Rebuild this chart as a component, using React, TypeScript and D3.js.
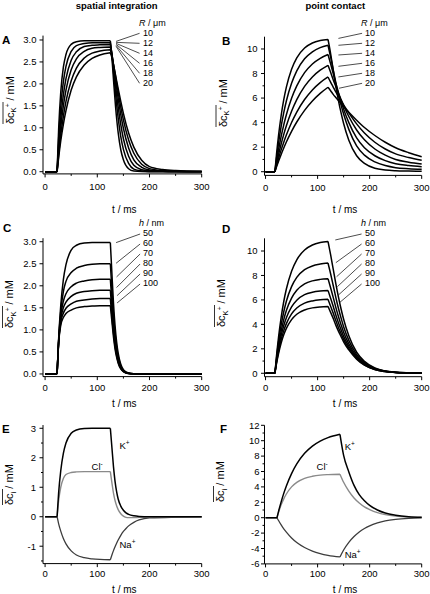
import React from 'react';
import * as d3 from 'd3';

const FONT = "'Liberation Sans', Arial, Helvetica, sans-serif";

// ---------------- shared tick values ----------------
const xMajor = [0, 100, 200, 300];
const xMinor = [50, 150, 250];
const yTicksAC = [0, 0.5, 1, 1.5, 2, 2.5, 3];
const yTicksBD = [0, 2, 4, 6, 8, 10];
const yMinorBD = [1, 3, 5, 7, 9];
const yTicksE = [-1, 0, 1, 2, 3];
const yMinorE = [-1.5, -0.5, 0.5, 1.5, 2.5];
const yTicksF = [-6, -4, -2, 0, 2, 4, 6, 8, 10, 12];
const yMinorF = [-5, -3, -1, 1, 3, 5, 7, 9, 11];

const radiusLabels = ['10', '12', '14', '16', '18', '20'];
const heightLabels = ['50', '60', '70', '80', '90', '100'];

// ---------------- Panel A : spatial integration, R varied ----------------
const riseTA = [23, 26, 30, 35, 40, 50, 60, 75, 90, 105, 125];
const decayTA = [125, 128, 131, 135, 140, 145, 150, 160, 170, 185, 200, 225, 250, 300];
const riseA_R10 = [0, 0.98, 1.81, 2.38, 2.67, 2.9, 2.96, 2.98, 2.98, 2.98, 2.98];
const riseA_R12 = [0, 0.76, 1.48, 2.05, 2.4, 2.74, 2.87, 2.92, 2.94, 2.94, 2.94];
const riseA_R14 = [0, 0.6, 1.21, 1.75, 2.12, 2.54, 2.73, 2.85, 2.88, 2.89, 2.9];
const riseA_R16 = [0, 0.49, 1.01, 1.5, 1.86, 2.32, 2.57, 2.74, 2.81, 2.83, 2.84];
const riseA_R18 = [0, 0.39, 0.83, 1.26, 1.6, 2.07, 2.36, 2.59, 2.7, 2.75, 2.78];
const riseA_R20 = [0, 0.32, 0.7, 1.08, 1.39, 1.86, 2.16, 2.43, 2.58, 2.66, 2.71];
const decayA_R10 = [2.98, 2.6, 2.1, 1.48, 0.89, 0.5, 0.27, 0.066, 0.014, 0.003, 0.001, 0, 0, 0];
const decayA_R12 = [2.94, 2.66, 2.28, 1.77, 1.22, 0.8, 0.51, 0.19, 0.06, 0.018, 0.006, 0.002, 0, 0];
const decayA_R14 = [2.9, 2.69, 2.38, 1.96, 1.47, 1.07, 0.75, 0.35, 0.146, 0.045, 0.02, 0.008, 0.004, 0];
const decayA_R16 = [2.84, 2.67, 2.43, 2.09, 1.67, 1.3, 0.99, 0.54, 0.27, 0.1, 0.04, 0.015, 0.008, 0.002];
const decayA_R18 = [2.78, 2.65, 2.45, 2.17, 1.81, 1.47, 1.18, 0.72, 0.42, 0.17, 0.07, 0.025, 0.012, 0.004];
const decayA_R20 = [2.71, 2.6, 2.44, 2.2, 1.89, 1.6, 1.33, 0.88, 0.56, 0.26, 0.115, 0.05, 0.025, 0.008];

// ---------------- Panel B : point contact, R varied ----------------
const riseTB = [18, 21, 25, 30, 35, 40, 50, 60, 75, 90, 105, 120];
const decayTB = [120, 125, 130, 135, 140, 145, 150, 160, 175, 190, 210, 230, 250, 275, 300];
const riseB_R10 = [0, 1.39, 2.97, 4.58, 5.87, 6.89, 8.35, 9.28, 10.08, 10.49, 10.69, 10.78];
const riseB_R12 = [0, 1.07, 2.34, 3.69, 4.81, 5.76, 7.2, 8.22, 9.2, 9.77, 10.11, 10.3];
const riseB_R14 = [0, 0.81, 1.79, 2.88, 3.82, 4.64, 5.98, 6.99, 8.07, 8.78, 9.24, 9.55];
const riseB_R16 = [0, 0.62, 1.39, 2.26, 3.04, 3.74, 4.92, 5.87, 6.95, 7.72, 8.27, 8.67];
const riseB_R18 = [0, 0.48, 1.08, 1.78, 2.41, 2.99, 4.01, 4.86, 5.88, 6.66, 7.26, 7.72];
const riseB_R20 = [0, 0.38, 0.85, 1.41, 1.93, 2.42, 3.29, 4.05, 5.0, 5.76, 6.38, 6.88];
const decayB_R10 = [10.78, 9.63, 8.28, 6.99, 5.82, 4.81, 3.93, 2.57, 1.3, 0.68, 0.28, 0.14, 0.08, 0.05, 0.03];
const decayB_R12 = [10.3, 9.35, 8.3, 7.25, 6.3, 5.45, 4.7, 3.45, 2.1, 1.35, 0.8, 0.5, 0.33, 0.25, 0.2];
const decayB_R14 = [9.55, 8.8, 8.0, 7.2, 6.45, 5.75, 5.1, 4.0, 2.75, 1.95, 1.3, 0.9, 0.65, 0.5, 0.41];
const decayB_R16 = [8.67, 8.1, 7.5, 6.95, 6.4, 5.9, 5.4, 4.5, 3.4, 2.6, 1.85, 1.35, 1.0, 0.78, 0.63];
const decayB_R18 = [7.72, 7.3, 6.9, 6.5, 6.15, 5.8, 5.45, 4.8, 3.9, 3.15, 2.4, 1.85, 1.45, 1.15, 0.93];
const decayB_R20 = [6.88, 6.6, 6.3, 6.05, 5.8, 5.55, 5.3, 4.85, 4.2, 3.6, 2.95, 2.4, 1.95, 1.55, 1.22];

// ---------------- Panel C : spatial integration, h varied ----------------
const riseTC = [23, 26, 30, 35, 40, 50, 60, 75, 90, 105, 125];
const decayTC = [125, 128, 131, 134, 137, 140, 145, 150, 155, 160, 170, 180, 200, 300];
const riseC_h50 = [0, 0.81, 1.55, 2.14, 2.48, 2.81, 2.92, 2.97, 2.98, 2.98, 2.98];
const riseC_h60 = [0, 0.78, 1.42, 1.87, 2.1, 2.3, 2.4, 2.46, 2.49, 2.5, 2.5];
const riseC_h70 = [0, 0.76, 1.32, 1.65, 1.82, 1.98, 2.06, 2.11, 2.14, 2.15, 2.15];
const riseC_h80 = [0, 0.74, 1.24, 1.5, 1.63, 1.76, 1.83, 1.87, 1.89, 1.9, 1.9];
const riseC_h90 = [0, 0.72, 1.17, 1.38, 1.49, 1.59, 1.65, 1.68, 1.7, 1.71, 1.71];
const riseC_h100 = [0, 0.7, 1.1, 1.28, 1.37, 1.45, 1.5, 1.53, 1.54, 1.55, 1.55];
const decayC_h50 = [2.98, 2.28, 1.61, 1.1, 0.73, 0.47, 0.22, 0.1, 0.045, 0.02, 0.005, 0.001, 0, 0];
const decayC_h60 = [2.5, 1.91, 1.35, 0.92, 0.61, 0.4, 0.18, 0.083, 0.036, 0.015, 0.004, 0.001, 0, 0];
const decayC_h70 = [2.15, 1.64, 1.16, 0.79, 0.52, 0.34, 0.16, 0.071, 0.031, 0.013, 0.003, 0.001, 0, 0];
const decayC_h80 = [1.9, 1.45, 1.03, 0.7, 0.46, 0.3, 0.14, 0.063, 0.027, 0.012, 0.003, 0.001, 0, 0];
const decayC_h90 = [1.71, 1.31, 0.93, 0.63, 0.42, 0.27, 0.126, 0.057, 0.025, 0.01, 0.003, 0.001, 0, 0];
const decayC_h100 = [1.55, 1.19, 0.84, 0.57, 0.38, 0.245, 0.114, 0.051, 0.022, 0.009, 0.002, 0.001, 0, 0];

// ---------------- Panel D : point contact, h varied ----------------
const riseTD = [18, 21, 25, 30, 35, 40, 50, 60, 75, 90, 105, 120];
const decayTD = [120, 125, 130, 135, 140, 145, 150, 160, 175, 190, 210, 230, 250, 275, 300];
const riseD_h50 = [0, 1.39, 2.97, 4.58, 5.87, 6.89, 8.35, 9.28, 10.08, 10.49, 10.69, 10.78];
const riseD_h60 = [0, 1.21, 2.57, 3.95, 5.03, 5.89, 7.09, 7.84, 8.47, 8.78, 8.93, 9.02];
const riseD_h70 = [0, 1.06, 2.25, 3.45, 4.39, 5.13, 6.15, 6.79, 7.31, 7.56, 7.68, 7.74];
const riseD_h80 = [0, 0.95, 2.01, 3.08, 3.91, 4.55, 5.44, 5.98, 6.43, 6.63, 6.73, 6.78];
const riseD_h90 = [0, 0.85, 1.8, 2.75, 3.49, 4.06, 4.86, 5.34, 5.74, 5.92, 6.01, 6.05];
const riseD_h100 = [0, 0.77, 1.62, 2.48, 3.15, 3.67, 4.39, 4.83, 5.18, 5.35, 5.43, 5.47];
const decayD_h50 = [10.78, 9.7, 8.52, 7.33, 6.25, 5.28, 4.42, 3.07, 1.72, 0.97, 0.43, 0.19, 0.09, 0.04, 0.02];
const decayD_h60 = [9.02, 8.14, 7.18, 6.21, 5.32, 4.53, 3.81, 2.69, 1.53, 0.87, 0.39, 0.17, 0.08, 0.04, 0.02];
const decayD_h70 = [7.74, 7.0, 6.21, 5.39, 4.64, 3.98, 3.36, 2.41, 1.39, 0.79, 0.36, 0.16, 0.07, 0.03, 0.02];
const decayD_h80 = [6.78, 6.14, 5.48, 4.77, 4.14, 3.57, 3.02, 2.2, 1.29, 0.73, 0.33, 0.15, 0.07, 0.03, 0.01];
const decayD_h90 = [6.05, 5.49, 4.92, 4.31, 3.75, 3.25, 2.77, 2.04, 1.21, 0.69, 0.31, 0.14, 0.06, 0.03, 0.01];
const decayD_h100 = [5.47, 4.98, 4.49, 3.94, 3.45, 3.01, 2.57, 1.91, 1.15, 0.66, 0.3, 0.14, 0.06, 0.03, 0.01];

// ---------------- Panel E : spatial integration, ions ----------------
const riseTE = [23, 26, 30, 35, 40, 50, 60, 75, 90, 105, 125];
const decayTE = [125, 128, 131, 134, 137, 140, 145, 150, 155, 160, 170, 180, 200, 300];
const riseE_K = [0, 0.82, 1.56, 2.15, 2.5, 2.83, 2.94, 2.99, 3.0, 3.0, 3.0];
const riseE_Cl = [0, 0.55, 1.0, 1.3, 1.43, 1.5, 1.52, 1.53, 1.53, 1.53, 1.53];
const riseE_Na = [0, -0.24, -0.49, -0.74, -0.92, -1.16, -1.3, -1.39, -1.43, -1.45, -1.46];
const decayE_K = [3.0, 2.35, 1.7, 1.2, 0.85, 0.6, 0.36, 0.22, 0.13, 0.08, 0.03, 0.01, 0, 0];
const decayE_Cl = [1.53, 1.15, 0.8, 0.55, 0.37, 0.24, 0.1, 0.02, -0.02, -0.03, -0.03, -0.02, -0.01, 0];
const decayE_Na = [-1.46, -1.3, -1.15, -1.02, -0.9, -0.79, -0.63, -0.5, -0.4, -0.31, -0.19, -0.11, -0.04, 0];

// ---------------- Panel F : point contact, ions ----------------
const riseTF = [22, 25, 30, 35, 40, 50, 60, 75, 90, 105, 120, 143];
const decayTF = [143, 150, 160, 170, 180, 190, 200, 215, 230, 250, 275, 300];
const riseF_K = [0, 0.82, 2.06, 3.16, 4.12, 5.73, 6.98, 8.36, 9.3, 9.95, 10.4, 10.83];
const riseF_Cl = [0, 0.69, 1.67, 2.45, 3.08, 4.0, 4.59, 5.11, 5.38, 5.53, 5.6, 5.65];
const riseF_Na = [0, -0.37, -0.94, -1.44, -1.88, -2.63, -3.22, -3.87, -4.33, -4.65, -4.88, -5.1];
const decayF_K = [10.83, 8.1, 5.95, 4.2, 3.0, 2.2, 1.6, 1.0, 0.6, 0.32, 0.13, 0.05];
const decayF_Cl = [5.65, 4.6, 3.45, 2.55, 1.9, 1.4, 1.05, 0.65, 0.4, 0.2, 0.08, 0.03];
const decayF_Na = [-5.1, -4.2, -3.2, -2.45, -1.85, -1.4, -1.05, -0.68, -0.42, -0.22, -0.09, -0.03];

// ---------------- drawing helpers ----------------
type Curve = { rt: number[]; rv: number[]; dt: number[]; dv: number[]; color: string; width: number };

const zip = (a: number[], b: number[]) => a.map((t, i) => [t, b[i]] as [number, number]);

type Leader = { t1: number; v1: number; dy1: number; t2: number; yEnd: number };

interface PanelProps {
  xDomain: [number, number];
  xRange: [number, number];
  yDomain: [number, number];
  yRange: [number, number];
  yTicks: number[];
  yMinor: number[];
  fmt: (v: number) => string;
  curves: Curve[];
  xLabelDy: number;
  xTitleY: number;
  ytGap: number;
  children?: (x: d3.ScaleLinear<number, number>, y: d3.ScaleLinear<number, number>) => React.ReactNode;
}

function Panel(p: PanelProps) {
  const x = d3.scaleLinear().domain(p.xDomain).range(p.xRange);
  const y = d3.scaleLinear().domain(p.yDomain).range(p.yRange);
  const smooth = d3.line<[number, number]>().x(d => x(d[0])).y(d => y(d[1])).curve(d3.curveMonotoneX);
  const straight = d3.line<[number, number]>().x(d => x(d[0])).y(d => y(d[1]));
  const ax = p.xRange[0];
  const ay = p.yRange[0];
  const xEnd = x(300);
  return (
    <g>
      {p.curves.map((c, i) => (
        <path
          key={i}
          d={(straight([[0, 0], [c.rt[0], 0]]) || '') + (smooth(zip(c.rt, c.rv)) || '') + (smooth(zip(c.dt, c.dv)) || '')}
          fill="none"
          stroke={c.color}
          strokeWidth={c.width}
          strokeLinejoin="round"
        />
      ))}
      {/* axes */}
      <line x1={ax} x2={xEnd} y1={ay} y2={ay} stroke="#000" strokeWidth={1} />
      <line x1={ax} x2={ax} y1={ay} y2={p.yRange[1]} stroke="#000" strokeWidth={1} />
      {xMajor.map(t => (
        <g key={'xm' + t}>
          <line x1={x(t)} x2={x(t)} y1={ay} y2={ay + 3.5} stroke="#000" strokeWidth={1} />
          <text x={x(t)} y={ay + p.xLabelDy} textAnchor="middle" fontSize={9.5}>{t}</text>
        </g>
      ))}
      {xMinor.map(t => (
        <line key={'xn' + t} x1={x(t)} x2={x(t)} y1={ay} y2={ay + 2} stroke="#000" strokeWidth={1} />
      ))}
      {p.yTicks.map(v => (
        <g key={'ym' + v}>
          <line x1={ax - 3.5} x2={ax} y1={y(v)} y2={y(v)} stroke="#000" strokeWidth={1} />
          <text x={ax - p.ytGap} y={y(v)} dy="0.35em" textAnchor="end" fontSize={9.5}>{p.fmt(v)}</text>
        </g>
      ))}
      {p.yMinor.map(v => (
        <line key={'yn' + v} x1={ax - 2} x2={ax} y1={y(v)} y2={y(v)} stroke="#000" strokeWidth={1} />
      ))}
      <text x={(ax + xEnd) / 2 + 2} y={p.xTitleY} textAnchor="middle" fontSize={10}>t / ms</text>
      {p.children ? p.children(x, y) : null}
    </g>
  );
}

function YLabel({ x, y, sub, sup, ol }: { x: number; y: number; sub: string; sup?: string; ol: number }) {
  return (
    <g transform={`translate(${x},${y}) rotate(-90)`}>
      <line x1={0} x2={ol} y1={-10.5} y2={-10.5} stroke="#000" strokeWidth={0.8} />
      <text fontSize={11}>
        <tspan>δc</tspan>
        <tspan fontSize={7.5} dy={2.5}>{sub}</tspan>
        {sup ? <tspan fontSize={6.5} dy={-6}>{sup}</tspan> : null}
        <tspan fontSize={11} dy={sup ? 3.5 : -2.5}>{' / mM'}</tspan>
      </text>
    </g>
  );
}

function Ion({ x, y, base, sup, size = 9.5 }: { x: number; y: number; base: string; sup: string; size?: number }) {
  return (
    <text x={x} y={y} fontSize={size}>
      {base}
      <tspan fontSize={6.5} dy={-4}>{sup}</tspan>
    </text>
  );
}

const fmt1 = (v: number) => v.toFixed(1);
const fmt0 = (v: number) => String(v);

function curvesOf(rt: number[], dt: number[], rises: number[][], decays: number[][], colors: string[], widths: number[]): Curve[] {
  return rises.map((rv, i) => ({ rt, rv, dt, dv: decays[i], color: colors[i], width: widths[i] }));
}

const black6 = ['#000', '#000', '#000', '#000', '#000', '#000'];
const w6 = [1.5, 1.5, 1.5, 1.5, 1.5, 1.5];

const xDomL: [number, number] = [-4, 300];
const xRanL: [number, number] = [43, 201.7];
const xDomR: [number, number] = [-2, 300];
const xRanR: [number, number] = [264.5, 421.7];

function legend(
  x: d3.ScaleLinear<number, number>,
  y: d3.ScaleLinear<number, number>,
  header: string,
  unit: string,
  labels: string[],
  startValues: number[],
  t1: number[],
  dy1: number[],
  t2: number,
  labelT: number,
  top: number
) {
  return (
    <g>
      <text x={x(labelT) - 4} y={top + 3.3} fontSize={9}>
        <tspan fontStyle="italic">{header}</tspan>
        {unit}
      </text>
      {labels.map((l, i) => {
        const cy = top + 10 + i * 10;
        return (
          <g key={l}>
            <line x1={x(t1[i])} y1={y(startValues[i]) + dy1[i]} x2={x(t2)} y2={cy + 1} stroke="#000" strokeWidth={0.7} />
            <text x={x(labelT)} y={cy + 3.3} fontSize={9}>{l}</text>
          </g>
        );
      })}
    </g>
  );
}

const peaksA = [2.98, 2.98, 2.98, 2.98, 2.98, 2.98];
const peaksB = riseB_R10.length ? [10.78, 10.3, 9.55, 8.67, 7.72, 6.88] : [];
const plateausC = [2.98, 2.5, 2.15, 1.9, 1.71, 1.55];
const peaksD = [10.78, 9.02, 7.74, 6.78, 6.05, 5.47];

export default function App() {
  const curvesA = curvesOf(riseTA, decayTA,
    [riseA_R10, riseA_R12, riseA_R14, riseA_R16, riseA_R18, riseA_R20],
    [decayA_R10, decayA_R12, decayA_R14, decayA_R16, decayA_R18, decayA_R20], black6, w6);
  const curvesB = curvesOf(riseTB, decayTB,
    [riseB_R10, riseB_R12, riseB_R14, riseB_R16, riseB_R18, riseB_R20],
    [decayB_R10, decayB_R12, decayB_R14, decayB_R16, decayB_R18, decayB_R20], black6, w6);
  const curvesC = curvesOf(riseTC, decayTC,
    [riseC_h50, riseC_h60, riseC_h70, riseC_h80, riseC_h90, riseC_h100],
    [decayC_h50, decayC_h60, decayC_h70, decayC_h80, decayC_h90, decayC_h100], black6, w6);
  const curvesD = curvesOf(riseTD, decayTD,
    [riseD_h50, riseD_h60, riseD_h70, riseD_h80, riseD_h90, riseD_h100],
    [decayD_h50, decayD_h60, decayD_h70, decayD_h80, decayD_h90, decayD_h100], black6, w6);
  const ionColors = ['#3c3c3c', '#8a8a8a', '#000'];
  const ionWidths = [1.3, 1.4, 1.5];
  const curvesE = curvesOf(riseTE, decayTE, [riseE_Na, riseE_Cl, riseE_K], [decayE_Na, decayE_Cl, decayE_K], ionColors, ionWidths);
  const curvesF = curvesOf(riseTF, decayTF, [riseF_Na, riseF_Cl, riseF_K], [decayF_Na, decayF_Cl, decayF_K], ionColors, ionWidths);

  return (
    <svg width={430} height={594} style={{ position: 'absolute', left: 0, top: 0, background: '#fff' }} fontFamily={FONT}>
      <rect x={0} y={0} width={430} height={594} fill="#fff" />
      <text x={116.7} y={8.5} textAnchor="middle" fontWeight="bold" fontSize={9.5}>spatial integration</text>
      <text x={335.3} y={8.5} textAnchor="middle" fontWeight="bold" fontSize={9.5}>point contact</text>

      {/* A */}
      <text x={2} y={43.5} fontWeight="bold" fontSize={11.5}>A</text>
      <Panel xDomain={xDomL} xRange={xRanL} yDomain={[-0.05, 3.1]} yRange={[173.9, 35.6]} yTicks={yTicksAC} yMinor={[]}
        fmt={fmt1} curves={curvesA} xLabelDy={16} xTitleY={212.5} ytGap={6.5}>
        {(x, y) => legend(x, y, 'R', ' / μm', radiusLabels, peaksA, [136, 136, 136, 136, 136, 136], [0.5, 1.5, 2.5, 3.5, 4.5, 5.5], 181, 187.5, 22.3)}
      </Panel>
      <YLabel x={13.5} y={124} sub="K" sup="+" ol={22} />

      {/* B */}
      <text x={222} y={44.5} fontWeight="bold" fontSize={11.5}>B</text>
      <Panel xDomain={xDomR} xRange={xRanR} yDomain={[-0.3, 11]} yRange={[175.4, 36.7]} yTicks={yTicksBD} yMinor={yMinorBD}
        fmt={fmt0} curves={curvesB} xLabelDy={16} xTitleY={212.5} ytGap={7}>
        {(x, y) => legend(x, y, 'R', ' / μm', radiusLabels, peaksB, [140, 140, 140, 140, 140, 141], [-1, 0, 0.5, 1, 0, 1], 185.5, 191, 22.3)}
      </Panel>
      <YLabel x={226.5} y={127} sub="K" sup="+" ol={22} />

      {/* C */}
      <text x={3} y={232} fontWeight="bold" fontSize={11.5}>C</text>
      <Panel xDomain={xDomL} xRange={xRanL} yDomain={[-0.06, 3.08]} yRange={[376.6, 238.2]} yTicks={yTicksAC} yMinor={[]}
        fmt={fmt1} curves={curvesC} xLabelDy={14.5} xTitleY={406.8} ytGap={6.5}>
        {(x, y) => legend(x, y, 'h', ' / nm', heightLabels, plateausC, [136, 136, 137, 137, 138, 138], [0, -0.5, -2.3, -2.7, -3, -2.7], 182, 187.5, 223)}
      </Panel>
      <YLabel x={13} y={328} sub="K" sup="+" ol={22} />

      {/* D */}
      <text x={222} y={233} fontWeight="bold" fontSize={11.5}>D</text>
      <Panel xDomain={xDomR} xRange={xRanR} yDomain={[-0.28, 11.04]} yRange={[376.7, 238.3]} yTicks={yTicksBD} yMinor={yMinorBD}
        fmt={fmt0} curves={curvesD} xLabelDy={14.5} xTitleY={406.8} ytGap={7}>
        {(x, y) => legend(x, y, 'h', ' / nm', heightLabels, peaksD, [134, 135, 136.5, 138, 140, 142], [-1.5, -0.3, -1.9, -3.7, -4.3, -3.7], 184.5, 191, 223)}
      </Panel>
      <YLabel x={225} y={327} sub="K" sup="+" ol={22} />

      {/* E */}
      <text x={2} y={432.7} fontWeight="bold" fontSize={11.5}>E</text>
      <Panel xDomain={xDomL} xRange={xRanL} yDomain={[-1.59, 3.11]} yRange={[563.6, 425.05]} yTicks={yTicksE} yMinor={yMinorE}
        fmt={fmt0} curves={curvesE} xLabelDy={13.5} xTitleY={592.5} ytGap={7}>
        {(x, y) => (
          <g>
            <Ion x={x(142.5)} y={y(2.3)} base="K" sup="+" />
            <Ion x={x(89)} y={y(1.58)} base="Cl" sup="-" />
            <Ion x={x(142.5)} y={y(-1.07)} base="Na" sup="+" />
          </g>
        )}
      </Panel>
      <YLabel x={13} y={505} sub="i" ol={16} />

      {/* F */}
      <text x={220} y={432.7} fontWeight="bold" fontSize={11.5}>F</text>
      <Panel xDomain={xDomR} xRange={xRanR} yDomain={[-6, 12]} yRange={[563.9, 425.3]} yTicks={yTicksF} yMinor={yMinorF}
        fmt={fmt0} curves={curvesF} xLabelDy={13} xTitleY={592.5} ytGap={5}>
        {(x, y) => (
          <g>
            <Ion x={x(152)} y={y(8.79)} base="K" sup="+" />
            <Ion x={x(98)} y={y(6.19)} base="Cl" sup="-" />
            <Ion x={x(152)} y={y(-5.27)} base="Na" sup="+" />
          </g>
        )}
      </Panel>
      <YLabel x={224} y={502} sub="i" ol={16} />
    </svg>
  );
}
